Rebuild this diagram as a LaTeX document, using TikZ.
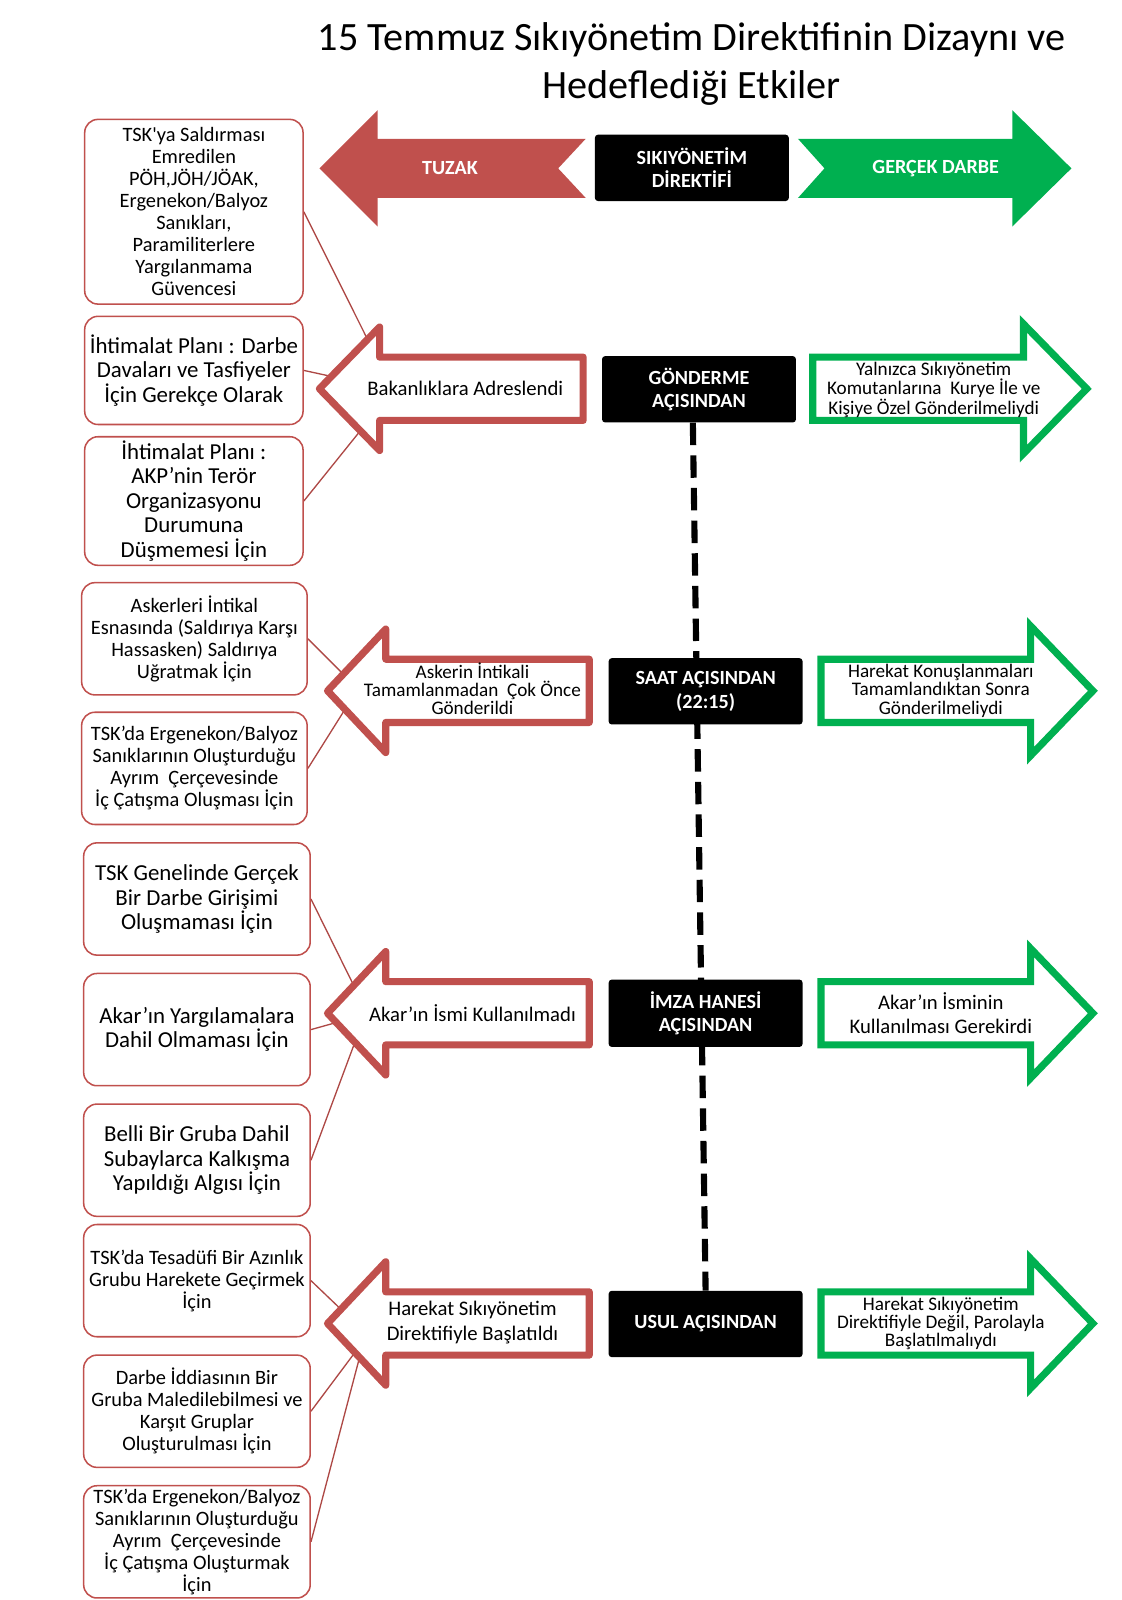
\documentclass[tikz,border=0pt]{standalone}
\usepackage{fontspec}
\setmainfont{Carlito}
\usetikzlibrary{calc,backgrounds}

\definecolor{kirmizi}{HTML}{C0504D}
\definecolor{yesil}{HTML}{00B050}

\tikzset{
  sebep/.style={draw=kirmizi, line width=1.5pt, rounded corners=13pt, fill=white, align=center, inner sep=1pt},
  kucuk/.style={font=\fontsize{20}{21.5}\selectfont},
  buyuk/.style={font=\fontsize{22.4}{24}\selectfont},
  siyah/.style={fill=black, rounded corners=3pt, text=white, align=center, font=\bfseries\fontsize{19.7}{23}\selectfont, minimum width=190, minimum height=65},
  kirmiziok/.style={draw=kirmizi, line width=7pt, line join=round, fill=white},
  yesilok/.style={draw=yesil, line width=7pt, fill=white},
  baglanti/.style={draw=kirmizi!90!black, line width=1.3pt},
  kesik/.style={line width=6pt, dash pattern=on 22pt off 10pt},
  oktext/.style={align=center, font=\fontsize{20.3}{24}\selectfont},
  okkucuk/.style={align=center, font=\fontsize{18.8}{18}\selectfont},
}

% sola bakan kirmizi ok: ad, uc x, bas x, kuyruk x, y
\newcommand{\solok}[5]{%
  \coordinate (#1-uc) at (#2,#5);
  \coordinate (#1-ust) at (#3,#5-60.5);
  \coordinate (#1-alt) at (#3,#5+60.5);
  \draw[kirmiziok] (#1-uc) -- (#1-ust) -- (#3,#5-31) -- (#4,#5-31)
    -- (#4,#5+31) -- (#3,#5+31) -- (#1-alt) -- cycle;
}
% saga bakan yesil ok: kuyruk x, bas x, uc x, y
\newcommand{\sagok}[4]{%
  \draw[yesilok] (#1,#4-31) -- (#2,#4-31) -- (#2,#4-63.5) -- (#3,#4)
    -- (#2,#4+63.5) -- (#2,#4+31) -- (#1,#4+31) -- cycle;
}

\begin{document}
\begin{tikzpicture}[x=1pt,y=-1pt]
    \useasboundingbox (0,0) rectangle (1098.6,1568);

    \node[font=\fontsize{39.4}{47}\selectfont, align=center] (baslik) at (678,63)
        {15 Temmuz Sıkıyönetim Direktifinin Dizaynı ve\\Hedeflediği Etkiler};

    % ust satir
    \fill[kirmizi] (313,165) -- (370,108) -- (370,136) -- (574,136) -- (547,165)
        -- (574,194) -- (370,194) -- (370,222) -- cycle;
    \fill[yesil] (782,136) -- (992,136) -- (992,108) -- (1050,165) -- (992,222)
        -- (992,194) -- (782,194) -- (808,165) -- cycle;
    \node[text=white, font=\bfseries\fontsize{19.7}{23}\selectfont] (tuzak) at (441,165) {TUZAK};
    \node[text=white, font=\bfseries\fontsize{19.7}{23}\selectfont] (darbe) at (917,165) {GERÇEK DARBE};
    \node[siyah] (direktif) at (678,164.5) {SIKIYÖNETİM\\DİREKTİFİ};

    % orta siyah kutular
    \node[siyah, minimum height=65] (gond) at (685,381.5) {GÖNDERME\\AÇISINDAN};
    \node[siyah] (saat) at (691.5,677.5) {SAAT AÇISINDAN\\(22:15)};
    \node[siyah, minimum height=66] (imza) at (691.5,993) {İMZA HANESİ\\AÇISINDAN};
    \node[siyah] (usul) at (691.5,1297.5) {USUL AÇISINDAN};

    % oklar
    \solok{r1}{313}{372}{571.5}{381}
    \solok{r2}{321}{378}{577.5}{677}
    \solok{r3}{321}{378}{577.5}{993}
    \solok{r4}{321}{378}{577.5}{1297}
    \sagok{796.5}{1003}{1065}{381}
    \sagok{804.5}{1010}{1071}{677}
    \sagok{804.5}{1010}{1071}{993}
    \sagok{804.5}{1010}{1071}{1297}

    \node[oktext] (r1t) at (456,381) {Bakanlıklara Adreslendi};
    \node[okkucuk] (r2t) at (463,675) {Askerin İntikali\\Tamamlanmadan\ \ Çok Önce\\Gönderildi};
    \node[oktext] (r3t) at (463,993) {Akar’ın İsmi Kullanılmadı};
    \node[oktext] (r4t) at (463,1296) {Harekat Sıkıyönetim\\Direktifiyle Başlatıldı};

    \node[okkucuk] (g1t) at (915,382) {Yalnızca Sıkıyönetim\\Komutanlarına\ \ Kurye İle ve\\Kişiye Özel Gönderilmeliydi};
    \node[okkucuk] (g2t) at (922,677) {Harekat Konuşlanmaları\\Tamamlandıktan Sonra\\Gönderilmeliydi};
    \node[oktext] (g3t) at (922,993) {Akar’ın İsminin\\Kullanılması Gerekirdi};
    \node[okkucuk] (g4t) at (922,1297) {Harekat Sıkıyönetim\\Direktifiyle Değil, Parolayla\\Başlatılmalıydı};

    % sol kutular
    \node[sebep, kucuk, minimum width=214, minimum height=181] (b1) at (190,207.5)
        {TSK\textquotesingle ya Saldırması\\Emredilen\\PÖH,JÖH/JÖAK,\\Ergenekon/Balyoz\\Sanıkları,\\Paramiliterlere\\Yargılanmama\\Güvencesi};
    \node[sebep, buyuk, minimum width=214, minimum height=106] (b2) at (190,363)
        {İhtimalat Planı : Darbe\\Davaları ve Tasfiyeler\\İçin Gerekçe Olarak};
    \node[sebep, buyuk, minimum width=214, minimum height=126] (b3) at (190,491)
        {İhtimalat Planı :\\AKP’nin Terör\\Organizasyonu\\Durumuna\\Düşmemesi İçin};
    \node[sebep, kucuk, minimum width=221, minimum height=110] (b4) at (190.5,626)
        {Askerleri İntikal\\Esnasında (Saldırıya Karşı\\Hassasken) Saldırıya\\Uğratmak İçin};
    \node[sebep, kucuk, minimum width=221, minimum height=110] (b5) at (190.5,753)
        {TSK’da Ergenekon/Balyoz\\Sanıklarının Oluşturduğu\\Ayrım\ \ Çerçevesinde\\İç Çatışma Oluşması İçin};
    \node[sebep, buyuk, minimum width=222, minimum height=110] (b6) at (193,881)
        {TSK Genelinde Gerçek\\Bir Darbe Girişimi\\Oluşmaması İçin};
    \node[sebep, buyuk, minimum width=222, minimum height=110] (b7) at (193,1009)
        {Akar’ın Yargılamalara\\Dahil Olmaması İçin};
    \node[sebep, buyuk, minimum width=222, minimum height=110] (b8) at (193,1137)
        {Belli Bir Gruba Dahil\\Subaylarca Kalkışma\\Yapıldığı Algısı İçin};
    \node[sebep, kucuk, minimum width=222, minimum height=110] (b9) at (193,1255)
        {TSK’da Tesadüfi Bir Azınlık\\Grubu Harekete Geçirmek\\İçin};
    \node[sebep, kucuk, minimum width=222, minimum height=110] (b10) at (193,1383)
        {Darbe İddiasının Bir\\Gruba Maledilebilmesi ve\\Karşıt Gruplar\\Oluşturulması İçin};
    \node[sebep, kucuk, minimum width=222, minimum height=110] (b11) at (193,1511)
        {TSK’da Ergenekon/Balyoz\\Sanıklarının Oluşturduğu\\Ayrım\ \ Çerçevesinde\\İç Çatışma Oluşturmak\\İçin};

    \begin{scope}[on background layer]
        \draw[kesik] ([xshift=-6pt]gond.south) -- (usul.north);

        \draw[baglanti] (b1.east) -- ($(r1-uc)!0.8!(r1-ust)$);
        \draw[baglanti] (b2.east) -- ($(r1-uc)!0.2!(r1-ust)$);
        \draw[baglanti] (b3.east) -- ($(r1-uc)!0.68!(r1-alt)$);
        \draw[baglanti] (b4.east) -- ($(r2-uc)!0.27!(r2-ust)$);
        \draw[baglanti] (b5.east) -- ($(r2-uc)!0.3!(r2-alt)$);
        \draw[baglanti] (b6.east) -- ($(r3-uc)!0.45!(r3-ust)$);
        \draw[baglanti] (b7.east) -- ($(r3-uc)!0.15!(r3-alt)$);
        \draw[baglanti] (b8.east) -- ($(r3-uc)!0.47!(r3-alt)$);
        \draw[baglanti] (b9.east) -- ($(r4-uc)!0.23!(r4-ust)$);
        \draw[baglanti] (b10.east) -- ($(r4-uc)!0.47!(r4-alt)$);
        \draw[baglanti] (b11.east) -- ($(r4-uc)!0.55!(r4-alt)$);
    \end{scope}
\end{tikzpicture}
\end{document}
